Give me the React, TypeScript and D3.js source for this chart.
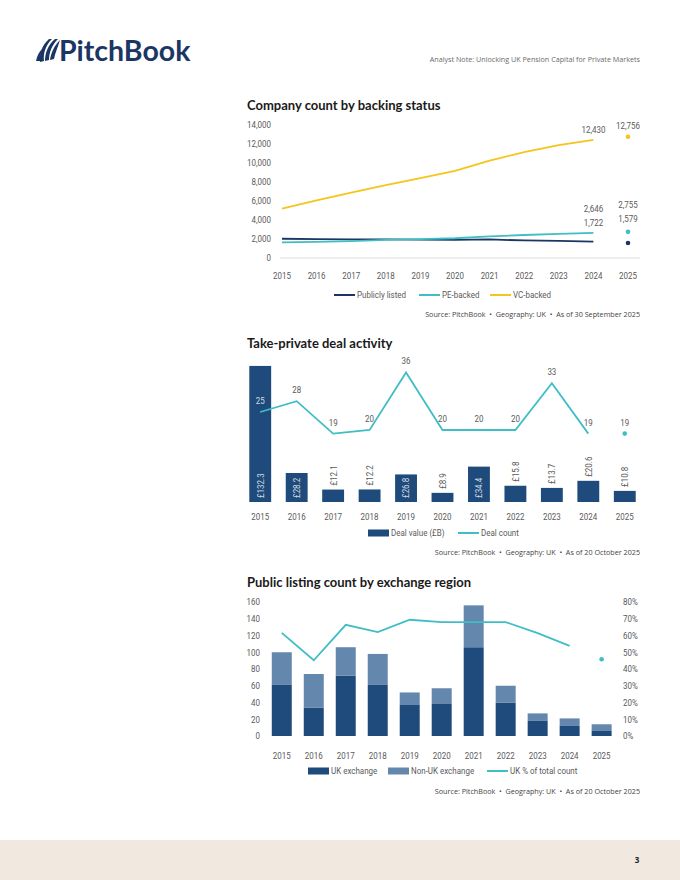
import * as d3 from "d3";
import type { ReactNode } from "react";

// ---- data ----
const years = ["2015", "2016", "2017", "2018", "2019", "2020", "2021", "2022", "2023", "2024", "2025"];

// company count by backing status (2025 shown as a dot only)
const publiclyListed = [2025, 1985, 1970, 1960, 1930, 1900, 1950, 1850, 1800, 1722, 1579];
const peBacked = [1640, 1700, 1780, 1900, 1980, 2080, 2280, 2420, 2540, 2646, 2755];
const vcBacked = [5200, 6070, 6880, 7680, 8420, 9180, 10260, 11140, 11870, 12430, 12756];
const countTicks = [0, 2000, 4000, 6000, 8000, 10000, 12000, 14000];

// take-private deal activity
const dealValue = [132.3, 28.2, 12.1, 12.2, 26.8, 8.9, 34.4, 15.8, 13.7, 20.6, 10.8];
const dealCount = [25, 28, 19, 20, 36, 20, 20, 20, 33, 19, 19];

// public listing count by exchange region
const ukExchange = [61, 34, 72, 61, 37, 39, 106, 40, 18, 12, 6];
const nonUkExchange = [39, 40, 34, 37, 15, 18, 50, 20, 9, 9, 8];
const ukShare = [0.616, 0.452, 0.664, 0.62, 0.694, 0.68, 0.68, 0.68, 0.614, 0.538, 0.458];
const listingTicks = [0, 20, 40, 60, 80, 100, 120, 140, 160];
const shareTicks = [0, 0.1, 0.2, 0.3, 0.4, 0.5, 0.6, 0.7, 0.8];

const NAVY = "#1f4b7c";
const DARK = "#1b3664";
const STEEL = "#6487ad";
const TEAL = "#3fbec6";
const GOLD = "#f4c51b";
const GREY = "#5a5a5a";
const LABEL_FONT = "Roboto, 'Noto Sans', sans-serif";
const TITLE_FONT = "Lato, 'Open Sans', sans-serif";
const SQUEEZE = 0.84;

const fmt = d3.format(",");

// condensed label: the reference uses a narrow face, so squeeze a regular one
function T({
  x,
  y,
  anchor = "start",
  fill = GREY,
  opacity = 1,
  rotate = 0,
  size = 9.5,
  children,
}: {
  x: number;
  y: number;
  anchor?: "start" | "middle" | "end";
  fill?: string;
  opacity?: number;
  rotate?: number;
  size?: number;
  children: ReactNode;
}) {
  return (
    <text
      transform={`translate(${x},${y}) rotate(${rotate}) scale(${SQUEEZE},1)`}
      textAnchor={anchor}
      fontFamily={LABEL_FONT}
      fontSize={size}
      fill={fill}
      fillOpacity={opacity}
    >
      {children}
    </text>
  );
}

function Legend({ items, y }: { items: { x: number; label: string; kind: "line" | "bar"; color: string }[]; y: number }) {
  return (
    <g>
      {items.map((it) => (
        <g key={it.label}>
          {it.kind === "line" ? (
            <line x1={it.x} x2={it.x + 21} y1={y} y2={y} stroke={it.color} strokeWidth={2} />
          ) : (
            <rect x={it.x} y={y - 3.5} width={21} height={7} fill={it.color} />
          )}
          <T x={it.x + 23} y={y + 3.4}>{it.label}</T>
        </g>
      ))}
    </g>
  );
}

function Source({ y, date }: { y: number; date: string }) {
  return (
    <text
      x={640}
      y={y}
      textAnchor="end"
      fontFamily="'Open Sans', sans-serif"
      fontSize={7.2}
      fill="#444"
      style={{ whiteSpace: "pre" }}
    >
      {`Source: PitchBook  •  Geography: UK  •  As of ${date}`}
    </text>
  );
}

function Title({ y, children }: { y: number; children: ReactNode }) {
  return (
    <text x={247} y={y} fontFamily={TITLE_FONT} fontWeight={700} fontSize={13} fill="#1a1a1a">
      {children}
    </text>
  );
}

function CompanyChart() {
  const x = d3.scalePoint<string>().domain(years).range([282, 628]);
  const y = d3.scaleLinear().domain([0, 14000]).range([258, 125]);
  const line = d3
    .line<number>()
    .x((_, i) => x(years[i]) ?? 0)
    .y((d) => y(d));
  const series = [
    { name: "Publicly listed", values: publiclyListed, color: DARK },
    { name: "PE-backed", values: peBacked, color: TEAL },
    { name: "VC-backed", values: vcBacked, color: GOLD },
  ];
  const i24 = 9;
  const i25 = 10;
  const x24 = x(years[i24]) ?? 0;
  const x25 = x(years[i25]) ?? 0;
  return (
    <g>
      <Title y={109.5}>Company count by backing status</Title>
      <line x1={280} x2={640} y1={y(0)} y2={y(0)} stroke="#d4d4d4" strokeWidth={0.8} />
      {countTicks.map((t) => (
        <T key={t} x={271} y={y(t) + 3.4} anchor="end">{fmt(t)}</T>
      ))}
      {years.map((yr) => (
        <T key={yr} x={x(yr) ?? 0} y={278.5} anchor="middle">{yr}</T>
      ))}
      {series.map((s) => (
        <g key={s.name}>
          <path d={line(s.values.slice(0, 10)) ?? ""} fill="none" stroke={s.color} strokeWidth={1.8} />
          <circle cx={x25} cy={y(s.values[i25])} r={2.3} fill={s.color} />
        </g>
      ))}
      <T x={x24} y={y(vcBacked[i24]) - 7} anchor="middle">{fmt(vcBacked[i24])}</T>
      <T x={x25} y={y(vcBacked[i25]) - 8} anchor="middle">{fmt(vcBacked[i25])}</T>
      <T x={x24} y={y(peBacked[i24]) - 21} anchor="middle">{fmt(peBacked[i24])}</T>
      <T x={x24} y={y(peBacked[i24]) - 7} anchor="middle">{fmt(publiclyListed[i24])}</T>
      <T x={x25} y={y(peBacked[i25]) - 24} anchor="middle">{fmt(peBacked[i25])}</T>
      <T x={x25} y={y(peBacked[i25]) - 10} anchor="middle">{fmt(publiclyListed[i25])}</T>
      <Legend
        y={295}
        items={[
          { x: 334, label: "Publicly listed", kind: "line", color: DARK },
          { x: 419, label: "PE-backed", kind: "line", color: TEAL },
          { x: 490, label: "VC-backed", kind: "line", color: GOLD },
        ]}
      />
      <Source y={316.5} date="30 September 2025" />
    </g>
  );
}

function DealChart() {
  const x = d3.scaleBand<string>().domain(years).range([242, 643]).paddingInner(0.4).paddingOuter(0.2);
  const yBar = d3.scaleLinear().domain([0, 140]).range([502, 358]);
  const yCount = d3.scaleLinear().domain([0, 40]).range([502, 358]);
  const cx = (i: number) => (x(years[i]) ?? 0) + x.bandwidth() / 2;
  const line = d3
    .line<number>()
    .x((_, i) => cx(i))
    .y((d) => yCount(d));
  return (
    <g>
      <Title y={347.5}>Take-private deal activity</Title>
      {dealValue.map((v, i) => {
        const bx = x(years[i]) ?? 0;
        const top = yBar(v);
        const inside = v >= 25;
        return (
          <g key={years[i]}>
            <rect x={bx} y={top} width={x.bandwidth()} height={yBar(0) - top} fill={NAVY} />
            <T
              x={cx(i) + 3.4}
              y={inside ? yBar(0) - 4 : top - 4}
              rotate={-90}
              fill={inside ? "#ffffff" : GREY}
              opacity={inside ? 0.8 : 1}
            >
              {`£${v.toFixed(1)}`}
            </T>
          </g>
        );
      })}
      <path d={line(dealCount.slice(0, 10)) ?? ""} fill="none" stroke={TEAL} strokeWidth={1.8} />
      <circle cx={cx(10)} cy={yCount(dealCount[10])} r={2.3} fill={TEAL} />
      {dealCount.map((c, i) => (
        <T
          key={years[i]}
          x={cx(i)}
          y={yCount(c) - 8}
          anchor="middle"
          fill={i === 0 ? "#ffffff" : GREY}
          opacity={i === 0 ? 0.8 : 1}
        >
          {c}
        </T>
      ))}
      {years.map((yr, i) => (
        <T key={yr} x={cx(i)} y={519.5} anchor="middle">{yr}</T>
      ))}
      <Legend
        y={533}
        items={[
          { x: 368, label: "Deal value (£B)", kind: "bar", color: NAVY },
          { x: 458, label: "Deal count", kind: "line", color: TEAL },
        ]}
      />
      <Source y={554.5} date="20 October 2025" />
    </g>
  );
}

function ListingChart() {
  const x = d3.scaleBand<string>().domain(years).range([265.7, 617.7]).paddingInner(0.375).paddingOuter(0.19);
  const yL = d3.scaleLinear().domain([0, 160]).range([736, 602]);
  const yR = d3.scaleLinear().domain([0, 0.8]).range([736, 602]);
  const cx = (i: number) => (x(years[i]) ?? 0) + x.bandwidth() / 2;
  const stackData = years.map((yr, i) => ({ year: yr, uk: ukExchange[i], nonUk: nonUkExchange[i] }));
  const stacked = d3.stack<(typeof stackData)[0]>().keys(["uk", "nonUk"])(stackData);
  const colors = [NAVY, STEEL];
  const line = d3
    .line<number>()
    .x((_, i) => cx(i))
    .y((d) => yR(d));
  return (
    <g>
      <Title y={586.5}>Public listing count by exchange region</Title>
      {listingTicks.map((t) => (
        <T key={t} x={260} y={yL(t) + 3.4} anchor="end">{t}</T>
      ))}
      {shareTicks.map((t) => (
        <T key={t} x={623} y={yR(t) + 3.4}>{d3.format(".0%")(t)}</T>
      ))}
      {years.map((yr, i) => (
        <T key={yr} x={cx(i)} y={758.5} anchor="middle">{yr}</T>
      ))}
      {stacked.map((layer, k) => (
        <g key={layer.key} fill={colors[k]}>
          {layer.map((d, i) => (
            <rect
              key={years[i]}
              x={x(years[i])}
              y={yL(d[1])}
              width={x.bandwidth()}
              height={yL(d[0]) - yL(d[1])}
            />
          ))}
        </g>
      ))}
      <path d={line(ukShare.slice(0, 10)) ?? ""} fill="none" stroke={TEAL} strokeWidth={1.8} />
      <circle cx={cx(10)} cy={yR(ukShare[10])} r={2.3} fill={TEAL} />
      <Legend
        y={771}
        items={[
          { x: 308, label: "UK exchange", kind: "bar", color: NAVY },
          { x: 388, label: "Non-UK exchange", kind: "bar", color: STEEL },
          { x: 487, label: "UK % of total count", kind: "line", color: TEAL },
        ]}
      />
      <Source y={793.5} date="20 October 2025" />
    </g>
  );
}

function Header() {
  return (
    <g>
      <g fill={DARK}>
        <path d="M40,62 C39,54 42,45 49,39 L52,39 C46,45 43,53 44,61 Z" />
        <path d="M45,61 C45,53 48,45 55,39 L58,39 C52,45 49,52 49,60 Z" />
        <path d="M50,60 C51,53 54,46 60,40 C58,47 55,53 54,59 Z" />
        <path d="M36,61 C37,56 39,52 42,49 C41,53 40,57 40,61 Z" />
      </g>
      <text x={59} y={61} fontFamily="Lato, 'Open Sans', sans-serif" fontWeight={700} fontSize={28.5} fill={DARK}>
        PitchBook
      </text>
      <text x={640} y={61.5} textAnchor="end" fontFamily="'Open Sans', sans-serif" fontSize={7.2} fill="#6a6a6a">
        Analyst Note: Unlocking UK Pension Capital for Private Markets
      </text>
    </g>
  );
}

export default function App() {
  return (
    <svg
      width={680}
      height={880}
      viewBox="0 0 680 880"
      style={{ position: "absolute", left: 0, top: 0, background: "#ffffff" }}
    >
      <rect x={0} y={0} width={680} height={880} fill="#ffffff" />
      <Header />
      <CompanyChart />
      <DealChart />
      <ListingChart />
      <rect x={0} y={840} width={680} height={40} fill="#f1e9df" />
      <text x={637} y={863} textAnchor="middle" fontFamily="'Open Sans', sans-serif" fontWeight={700} fontSize={8} fill="#222">
        3
      </text>
    </svg>
  );
}
